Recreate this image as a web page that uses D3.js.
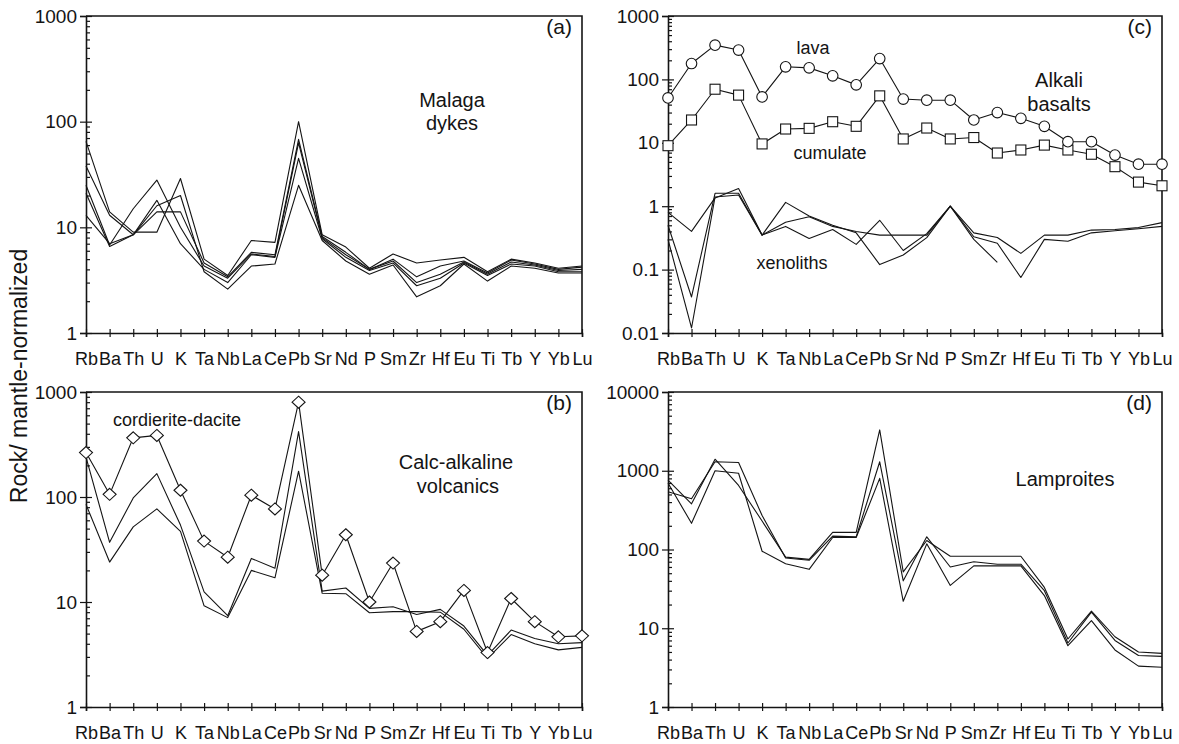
<!DOCTYPE html>
<html>
<head>
<meta charset="utf-8">
<script src="https://cdn.jsdelivr.net/npm/d3@7"></script>
<style>
  body { margin: 0; background: #fff; }
  svg { display: block; font-family: "Liberation Sans", Arial, Helvetica, sans-serif; }
</style>
</head>
<body>
<svg id="chart" width="1179" height="744"></svg>
<script>
// Element order on the spider-diagram x axis
const elements = ["Rb","Ba","Th","U","K","Ta","Nb","La","Ce","Pb","Sr","Nd","P","Sm","Zr","Hf","Eu","Ti","Tb","Y","Yb","Lu"];

// (a) Malaga dykes
const malaga1 = [65, 14, 9, 9, 29, 5.0, 3.5, 7.5, 7.2, 100, 8.5, 6.5, 4.1, 5.6, 4.6, 4.9, 5.2, 3.8, 5.0, 4.6, 4.1, 4.3];
const malaga2 = [38, 13, 8.5, 14, 14, 4.6, 3.4, 5.8, 5.5, 68, 8.2, 5.8, 4.0, 5.0, 3.4, 4.3, 4.8, 3.7, 4.9, 4.5, 4.0, 4.2];
const malaga3 = [25, 6.8, 15, 28, 10, 4.3, 3.3, 5.6, 5.3, 63, 8.0, 5.5, 4.0, 4.8, 3.0, 3.6, 4.7, 3.6, 4.7, 4.4, 3.9, 4.0];
const malaga4 = [21, 6.6, 8.5, 18, 7, 4.0, 3.0, 5.5, 5.2, 45, 7.8, 5.2, 3.9, 4.6, 2.8, 3.3, 4.6, 3.5, 4.5, 4.3, 3.8, 3.8];
const malaga5 = [13, 7, 8.5, 16, 20, 3.8, 2.6, 4.3, 4.5, 25, 7.5, 4.8, 3.6, 4.4, 2.2, 2.8, 4.5, 3.1, 4.3, 4.1, 3.7, 3.7];

// (b) Calc-alkaline volcanics
const cordieriteDacite = [265, 106, 366, 386, 116, 38, 26.7, 104, 77, 800, 18, 43.7, 10, 23.5, 5.25, 6.5, 12.9, 3.3, 10.8, 6.5, 4.66, 4.76];
const calcAlk1 = [240, 37, 98, 167, 54, 12.5, 7.4, 26, 21, 420, 12.7, 13.6, 8.7, 9, 7.6, 8.5, 5.9, 3.1, 5.4, 4.5, 4.0, 4.1];
const calcAlk2 = [85, 24, 52, 77, 47, 9.2, 7.1, 20, 17, 176, 12.1, 12, 7.9, 8.1, 8.1, 8.0, 5.5, 2.9, 4.9, 4.0, 3.5, 3.7];

// (c) Alkali basalts
const lava = [51, 178, 347, 290, 53, 158, 152, 114, 82, 213, 49, 47, 47, 22.9, 30, 24.3, 18.2, 10.4, 10.4, 6.4, 4.6, 4.6];
const cumulate = [9, 22.9, 70, 56.5, 9.6, 16.5, 16.9, 21.5, 18.2, 55, 11.5, 17.1, 11.5, 12.1, 6.9, 7.7, 9.2, 7.7, 6.6, 4.2, 2.4, 2.1];
const xenolith1 = [0.8, 0.4, 1.35, 1.9, 0.35, 0.48, 0.31, 0.43, 0.25, 0.6, 0.2, 0.37, 1.0, 0.38, 0.32, 0.18, 0.35, 0.35, 0.42, 0.43, 0.46, 0.55];
const xenolith2 = [0.5, 0.037, 1.6, 1.6, 0.35, 1.15, 0.7, 0.5, 0.38, 0.12, 0.17, 0.32, 1.0, 0.33, 0.26, 0.075, 0.3, 0.28, 0.38, 0.41, 0.44, 0.48];
const xenolith3 = [0.3, 0.012, 1.4, 1.5, 0.35, 0.56, 0.68, 0.48, 0.4, 0.35, 0.35, 0.35, 1.0, 0.3, 0.13, null, null, null, null, null, null, null];

// (d) Lamproites
const lamproite1 = [760, 380, 1400, 650, 230, 80, 75, 165, 165, 3300, 52, 130, 82, 82, 82, 82, 33, 7.3, 16.5, 7.8, 5.0, 4.8];
const lamproite2 = [540, 440, 1300, 1270, 270, 78, 73, 148, 145, 1300, 40, 145, 60, 70, 65, 65, 30, 6.5, 16, 7, 4.5, 4.4];
const lamproite3 = [700, 215, 1000, 930, 95, 66, 56, 142, 142, 800, 22, 118, 35, 62, 62, 62, 26, 6, 12.5, 5.3, 3.3, 3.2];

// Panel decade ranges
const rangeA = [1, 1000];
const rangeB = [1, 1000];
const rangeC = [0.01, 1000];
const rangeD = [1, 10000];

const svg = d3.select("#chart");
const INK = "#141414";

const panels = [
  { left: 86, right: 582, top: 16, bottom: 333, domain: rangeA,
    series: [malaga1, malaga2, malaga3, malaga4, malaga5].map(v => ({ values: v })),
    tag: "(a)",
    notes: [{ t: "Malaga", x: 452, y: 100, size: 20 }, { t: "dykes", x: 452, y: 123, size: 20 }] },
  { left: 86, right: 582, top: 392, bottom: 707, domain: rangeB,
    series: [{ values: calcAlk1 }, { values: calcAlk2 }, { values: cordieriteDacite, marker: "diamond" }],
    tag: "(b)",
    notes: [{ t: "cordierite-dacite", x: 177, y: 420, size: 18 },
            { t: "Calc-alkaline", x: 456, y: 462, size: 20 }, { t: "volcanics", x: 458, y: 486, size: 20 }] },
  { left: 668, right: 1162, top: 16, bottom: 333, domain: rangeC,
    series: [{ values: xenolith1 }, { values: xenolith2 }, { values: xenolith3 },
             { values: cumulate, marker: "square" }, { values: lava, marker: "circle" }],
    tag: "(c)",
    notes: [{ t: "lava", x: 813, y: 48, size: 18 }, { t: "Alkali", x: 1059, y: 80, size: 20 },
            { t: "basalts", x: 1059, y: 104, size: 20 }, { t: "cumulate", x: 830, y: 153, size: 18 },
            { t: "xenoliths", x: 792, y: 263, size: 18 }] },
  { left: 668, right: 1162, top: 392, bottom: 707, domain: rangeD,
    series: [lamproite1, lamproite2, lamproite3].map(v => ({ values: v })),
    tag: "(d)",
    notes: [{ t: "Lamproites", x: 1065, y: 479, size: 20 }] }
];

const fmt = v => v >= 1 ? d3.format("d")(v) : String(+v.toPrecision(1));

function drawPanel(cfg) {
  const x = d3.scalePoint().domain(elements).range([cfg.left, cfg.right]);
  const y = d3.scaleLog().domain(cfg.domain).range([cfg.bottom, cfg.top]);
  const g = svg.append("g");

  const e0 = Math.round(Math.log10(cfg.domain[0]));
  const e1 = Math.round(Math.log10(cfg.domain[1]));
  const decades = d3.range(e0, e1 + 1).map(e => Math.pow(10, e));
  const minors = [];
  d3.range(e0, e1).forEach(e => { for (let m = 2; m <= 9; m++) minors.push(m * Math.pow(10, e)); });

  // frame: top and right edges
  g.append("path")
    .attr("d", `M${cfg.left},${cfg.top}H${cfg.right}V${cfg.bottom}`)
    .attr("fill", "none").attr("stroke", INK).attr("stroke-width", 1.6);

  // y axis: labelled decades (outer ticks)
  const yAxis = g.append("g").attr("class", "yaxis").attr("transform", `translate(${cfg.left},0)`)
    .call(d3.axisLeft(y).tickValues(decades).tickSize(6).tickPadding(3).tickFormat(fmt));
  // inner decade ticks and minor ticks
  g.append("g").attr("transform", `translate(${cfg.left},0)`)
    .call(d3.axisLeft(y).tickValues(decades).tickSize(-6).tickFormat(""))
    .call(a => a.select(".domain").remove());
  g.append("g").attr("transform", `translate(${cfg.left},0)`)
    .call(d3.axisLeft(y).tickValues(minors).tickSize(-4).tickFormat(""))
    .call(a => a.select(".domain").remove());

  // x axis: element ticks crossing the baseline
  const xAxis = g.append("g").attr("class", "xaxis").attr("transform", `translate(0,${cfg.bottom})`)
    .call(d3.axisBottom(x).tickSize(4).tickPadding(15));
  g.append("g").attr("transform", `translate(0,${cfg.bottom})`)
    .call(d3.axisBottom(x).tickSize(-4).tickFormat(""))
    .call(a => a.select(".domain").remove());

  g.selectAll(".domain").attr("stroke", INK).attr("stroke-width", 1.6);
  g.selectAll(".tick line").attr("stroke", INK).attr("stroke-width", 1.2);
  yAxis.attr("font-family", null).attr("font-size", null);
  xAxis.attr("font-family", null).attr("font-size", null);
  yAxis.selectAll(".tick text").attr("fill", INK).attr("font-size", 19);
  xAxis.selectAll(".tick text").attr("fill", INK).attr("font-size", 18);

  // series lines
  const line = d3.line()
    .defined(d => d != null)
    .x((d, i) => x(elements[i]))
    .y(d => y(d));

  cfg.series.forEach(s => {
    g.append("path").datum(s.values)
      .attr("d", line)
      .attr("fill", "none").attr("stroke", INK).attr("stroke-width", 1.1)
      .attr("stroke-linejoin", "round");
  });

  // open markers
  cfg.series.filter(s => s.marker).forEach(s => {
    const pts = s.values.map((v, i) => ({ v, k: elements[i] })).filter(p => p.v != null);
    const mk = g.append("g").attr("fill", "#fff").attr("stroke", INK).attr("stroke-width", 1.1);
    if (s.marker === "circle") {
      mk.selectAll("circle").data(pts).join("circle")
        .attr("cx", p => x(p.k)).attr("cy", p => y(p.v)).attr("r", 5.3);
    } else if (s.marker === "square") {
      mk.selectAll("rect").data(pts).join("rect")
        .attr("x", p => x(p.k) - 5).attr("y", p => y(p.v) - 5)
        .attr("width", 10).attr("height", 10);
    } else if (s.marker === "diamond") {
      mk.selectAll("path").data(pts).join("path")
        .attr("d", p => {
          const cx = x(p.k), cy = y(p.v);
          return `M${cx},${cy - 6}L${cx + 6.5},${cy}L${cx},${cy + 6}L${cx - 6.5},${cy}Z`;
        });
    }
  });

  // panel tag and annotations
  g.append("text").attr("x", cfg.right - 10).attr("y", cfg.top + 11)
    .attr("dy", "0.35em").attr("text-anchor", "end")
    .attr("font-size", 21).attr("fill", INK).text(cfg.tag);
  cfg.notes.forEach(n => {
    g.append("text").attr("x", n.x).attr("y", n.y).attr("dy", "0.35em")
      .attr("text-anchor", "middle").attr("font-size", n.size).attr("fill", INK).text(n.t);
  });
}

panels.forEach(drawPanel);

// shared y-axis title
svg.append("text")
  .attr("transform", "translate(19,376) rotate(-90)")
  .attr("text-anchor", "middle").attr("dy", "0.35em")
  .attr("font-size", 23).attr("fill", INK)
  .text("Rock/ mantle-normalized");
</script>
</body>
</html>
